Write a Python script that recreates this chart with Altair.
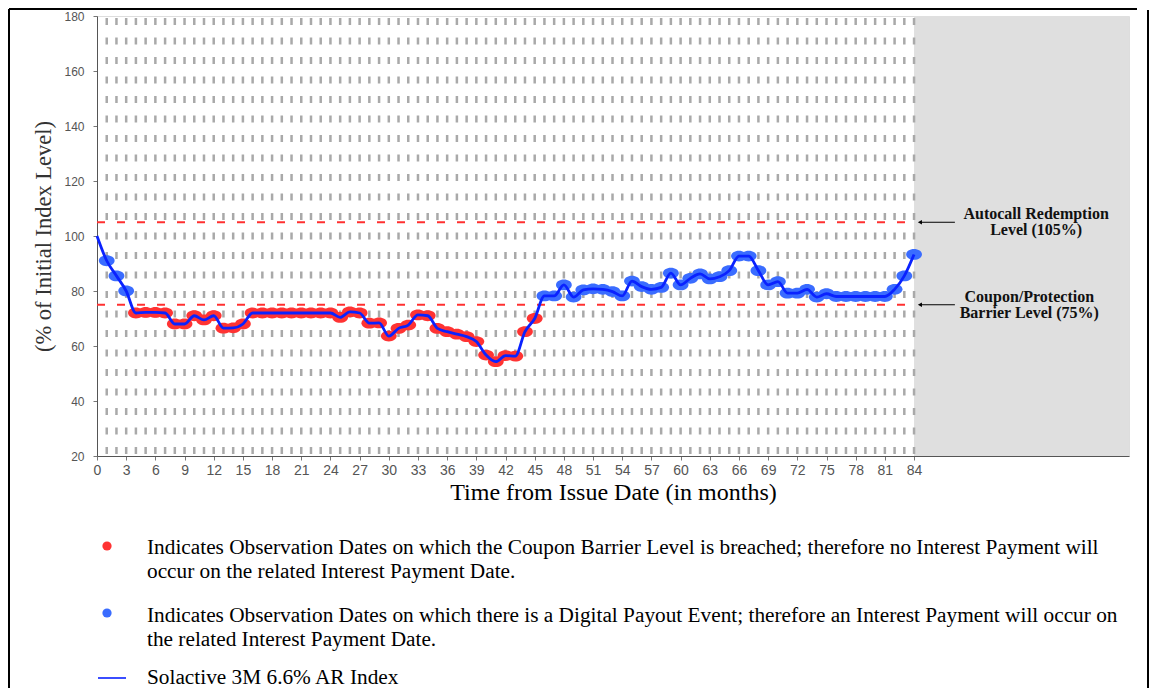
import altair as alt
import pandas as pd

# ---------------- data ----------------
months = list(range(0, 85))
index_level = [100, 91, 85.5, 80, 72, 72.2, 72.2, 72, 68, 68,
               71, 69.5, 71, 66.5, 66.6, 68, 72, 72, 72, 72,
               72, 72, 72, 72, 72, 70.4, 72.4, 72, 68.3, 68.4,
               63.6, 66.4, 67.6, 71.3, 71, 66.4, 65.2, 64.3, 63.4, 61.6,
               56.7, 54.3, 56.5, 56.3, 65.2, 70, 78.2, 78.2, 82.2, 77.8,
               80.4, 80.8, 80.6, 79.8, 78.2, 83.6, 81.6, 80.6, 81.3, 86.5,
               82.2, 84.6, 86.2, 84.4, 85.2, 87.4, 92.7, 92.7, 87.4, 82.2,
               83.4, 79.2, 79.2, 80.6, 77.8, 79, 78, 78, 78, 78,
               78, 78, 80.6, 85.5, 93.3]
autocall_level = 105
barrier_level = 75
last_month = 84
x_max = 106.1
x_ticks = list(range(0, 85, 3))
y_ticks = list(range(20, 181, 20))
grid_months = list(range(1, 85))
autocall_label = ["Autocall Redemption", "Level (105%)"]
barrier_label = ["Coupon/Protection", "Barrier Level (75%)"]
legend_red = ["Indicates Observation Dates on which the Coupon Barrier Level is breached; therefore no Interest Payment will",
              "occur on the related Interest Payment Date."]
legend_blue = ["Indicates Observation Dates on which there is a Digital Payout Event; therefore an Interest Payment will occur on",
               "the related Interest Payment Date."]
legend_line = "Solactive 3M 6.6% AR Index"

W, H = 1032, 440
SERIF = "Liberation Serif"
SANS = "Liberation Sans"

df = pd.DataFrame({"month": months, "value": index_level})
obs = df[df["month"] >= 1].copy()
obs["status"] = ["breach" if v < barrier_level else "payout" for v in obs["value"]]

xs = alt.Scale(domain=[0, x_max], nice=False, zero=False)
ys = alt.Scale(domain=[20, 180], nice=False, zero=False)

x_axis = alt.Axis(values=x_ticks, title="Time from Issue Date (in months)",
                  labelFont=SANS, labelFontSize=14, labelColor="#555",
                  labelPadding=3, tickSize=4, tickColor="#777", domainColor="#555",
                  grid=False, labelFlush=False, labelOverlap=False,
                  titleFont=SERIF, titleFontSize=24, titleFontWeight="normal",
                  titleColor="#000", titlePadding=3)
y_axis = alt.Axis(values=y_ticks, title="(% of Initial Index Level)",
                  labelFont=SANS, labelFontSize=12, labelColor="#555",
                  labelPadding=9, tickSize=4, tickColor="#777", domainColor="#555",
                  grid=False,
                  titleFont=SERIF, titleFontSize=22.5, titleFontWeight="normal",
                  titleColor="#333", titlePadding=8)


def X(field):
    return alt.X(field, scale=xs, axis=x_axis)


def Y(field):
    return alt.Y(field, scale=ys, axis=y_axis)


# shaded post-maturity region
shade = alt.Chart(pd.DataFrame({"x": [last_month], "x2": [x_max],
                                "y": [180], "y2": [20]})).mark_rect(
    color="#dfdfdf").encode(x=X("x:Q"), x2="x2:Q", y=Y("y:Q"), y2="y2:Q")

# vertical dashed monthly lines
grid = alt.Chart(pd.DataFrame({"month": grid_months, "y": 180, "y2": 20})).mark_rule(
    color="#a9a9a9", strokeWidth=2.5, strokeDash=[7, 12.5], strokeDashOffset=17.5).encode(
    x=X("month:Q"), y=Y("y:Q"), y2="y2:Q")

# horizontal red dashed levels
levels = alt.Chart(pd.DataFrame({"level": [autocall_level, barrier_level],
                                 "x": [0, 0], "x2": [last_month, last_month]})).mark_rule(
    color="#ff3030", strokeWidth=2, strokeDash=[8, 12]).encode(
    x=X("x:Q"), x2="x2:Q", y=Y("level:Q"))

ellipse = "M-1,0 A1,0.68 0 1,1 1,0 A1,0.68 0 1,1 -1,0 Z"
markers = alt.Chart(obs).mark_point(filled=True, shape=ellipse, size=250, opacity=1).encode(
    x=X("month:Q"), y=Y("value:Q"),
    color=alt.Color("status:N", scale=alt.Scale(domain=["breach", "payout"],
                                                range=["#ff3333", "#3a6cff"]), legend=None))

line = alt.Chart(df).mark_line(color="#0a22ff", strokeWidth=2.8, interpolate="monotone").encode(
    x=X("month:Q"), y=Y("value:Q"))

# arrows + annotation texts
arr_df = pd.DataFrame({"level": [autocall_level, barrier_level],
                       "x": [84.6, 84.6], "x2": [88.2, 88.2]})
arrow_shaft = alt.Chart(arr_df).mark_rule(color="#000", strokeWidth=1).encode(
    x=X("x:Q"), x2="x2:Q", y=Y("level:Q"))
arrow_head = alt.Chart(arr_df).mark_point(shape="triangle-left", filled=True, color="#000",
                                          size=22, opacity=1).encode(
    x=X("x:Q"), y=Y("level:Q"))

ann_df = pd.DataFrame({"level": [autocall_level, barrier_level],
                       "x": [96.55, 95.85],
                       "label": [autocall_label, barrier_label]})
ann = alt.Chart(ann_df).mark_text(font=SERIF, fontSize=16, fontWeight="bold", color="#111",
                                  align="center", baseline="middle", lineHeight=16,
                                  dy=-8).encode(
    x=X("x:Q"), y=Y("level:Q"), text="label")

# legend (below the chart)
one = pd.DataFrame({"k": [0]})
leg_red_dot = alt.Chart(one).mark_point(filled=True, shape="circle", size=85, color="#ff3333",
                                        opacity=1).encode(x=alt.value(10), y=alt.value(530))
leg_blue_dot = alt.Chart(one).mark_point(filled=True, shape="circle", size=85, color="#3a6cff",
                                         opacity=1).encode(x=alt.value(10), y=alt.value(597))
leg_line = alt.Chart(one).mark_rule(color="#0a22ff", strokeWidth=1.6).encode(
    x=alt.value(1), x2=alt.value(29), y=alt.value(662))
leg_t1 = alt.Chart(one).mark_text(text=legend_red, font=SERIF, fontSize=21.3, align="left",
                                  baseline="alphabetic", lineHeight=24, color="#000").encode(
    x=alt.value(50), y=alt.value(538))
leg_t2 = alt.Chart(one).mark_text(text=legend_blue, font=SERIF, fontSize=21.3, align="left",
                                  baseline="alphabetic", lineHeight=24, color="#000").encode(
    x=alt.value(50), y=alt.value(606))
leg_t3 = alt.Chart(one).mark_text(text=legend_line, font=SERIF, fontSize=21.3, align="left",
                                  baseline="alphabetic", color="#000").encode(
    x=alt.value(50), y=alt.value(668))

# page frame
frame_left = alt.Chart(one).mark_rule(color="#000", strokeWidth=2).encode(
    x=alt.value(-88), y=alt.value(-7), y2=alt.value(700))
frame_top = alt.Chart(one).mark_rule(color="#000", strokeWidth=2).encode(
    x=alt.value(-88), x2=alt.value(1040), y=alt.value(-7))
frame_right = alt.Chart(one).mark_rule(color="#000", strokeWidth=2).encode(
    x=alt.value(1051), y=alt.value(-6), y2=alt.value(700))

chart = alt.layer(shade, grid, levels, markers, line, arrow_shaft, arrow_head, ann,
                  leg_red_dot, leg_blue_dot, leg_line, leg_t1, leg_t2, leg_t3,
                  frame_left, frame_top, frame_right).properties(
    width=W, height=H,
    autosize=alt.AutoSizeParams(type="none"),
    padding={"left": 89, "top": 8, "right": 20, "bottom": 232},
).configure_view(stroke="#888", strokeWidth=1).configure(background="white")

chart.save("out.html", embed_options={"renderer": "svg", "actions": False})
